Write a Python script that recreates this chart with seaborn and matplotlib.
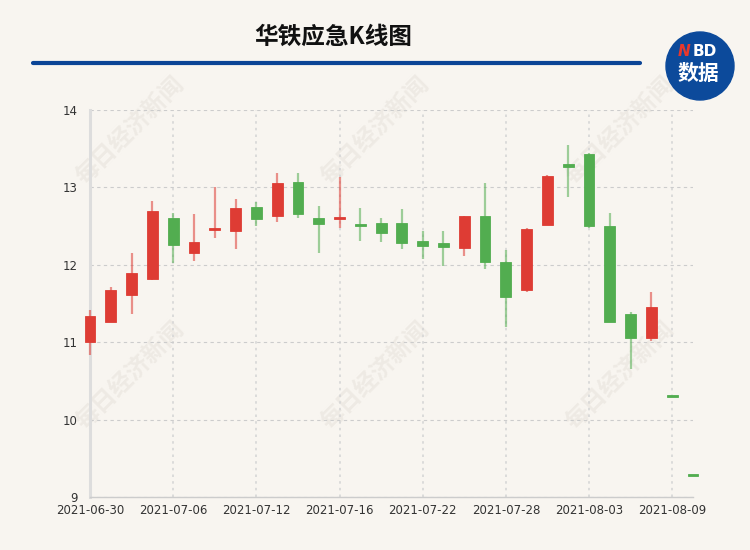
import numpy as np
import pandas as pd
import seaborn as sns
import matplotlib.pyplot as plt
from matplotlib.patches import Ellipse

# 华铁应急 daily candles
dates = ["2021-06-30", "2021-07-01", "2021-07-02", "2021-07-05", "2021-07-06",
         "2021-07-07", "2021-07-08", "2021-07-09", "2021-07-12", "2021-07-13",
         "2021-07-14", "2021-07-15", "2021-07-16", "2021-07-19", "2021-07-20",
         "2021-07-21", "2021-07-22", "2021-07-23", "2021-07-26", "2021-07-27",
         "2021-07-28", "2021-07-29", "2021-07-30", "2021-08-02", "2021-08-03",
         "2021-08-04", "2021-08-05", "2021-08-06", "2021-08-09", "2021-08-10"]
opens = [11.00, 11.26, 11.61, 11.82, 12.60, 12.15, 12.46, 12.44, 12.75, 12.63,
         13.07, 12.60, 12.60, 12.53, 12.54, 12.54, 12.31, 12.28, 12.22, 12.63,
         12.03, 11.67, 12.52, 13.30, 13.43, 12.50, 11.37, 11.06, 10.31, 9.28]
highs = [11.42, 11.71, 12.15, 12.82, 12.67, 12.66, 13.00, 12.85, 12.81, 13.19,
         13.18, 12.76, 13.14, 12.74, 12.61, 12.72, 12.44, 12.44, 12.63, 13.06,
         12.19, 12.48, 13.16, 13.55, 13.44, 12.67, 11.39, 11.65, 10.31, 9.28]
lows = [10.83, 11.26, 11.37, 11.80, 12.02, 12.05, 12.34, 12.20, 12.50, 12.55,
        12.60, 12.15, 12.48, 12.31, 12.30, 12.20, 12.08, 11.98, 12.12, 11.95,
        11.20, 11.65, 12.52, 12.87, 12.48, 11.26, 10.66, 11.01, 10.31, 9.28]
closes = [11.34, 11.67, 11.89, 12.69, 12.26, 12.29, 12.48, 12.73, 12.59, 13.06,
          12.65, 12.53, 12.61, 12.52, 12.41, 12.28, 12.24, 12.23, 12.63, 12.03,
          11.59, 12.46, 13.15, 13.26, 12.50, 11.26, 11.06, 11.45, 10.31, 9.28]

df = pd.DataFrame({"date": dates, "open": opens, "high": highs,
                   "low": lows, "close": closes})
df["x"] = np.arange(len(df))
# up/down like echarts: flat days compare with previous close
prev = df["close"].shift(1).fillna(df["open"])
df["up"] = np.where(df["close"] != df["open"], df["close"] > df["open"],
                    df["close"] > prev)

bg = "#f8f5f0"
red = "#de3c34"
green = "#52ad50"

sns.set_theme(style="white")
plt.rcParams["font.family"] = ["DejaVu Sans"]

fig = plt.figure(figsize=(7.5, 5.5), dpi=100, facecolor=bg)
ax = fig.add_axes([0.12, 0.0964, 0.804, 0.7036])
ax.patch.set_alpha(0)

# watermarks, behind everything
for wx in [130, 375, 620]:
    for wy in [130, 375]:
        fig.text(wx / 750, 1 - wy / 550, "每日经济新闻", rotation=45,
                 ha="center", va="center", fontsize=17, fontweight="bold",
                 color="#eeeae4", family=["Noto Sans CJK SC"], zorder=-5)

for _, r in df.iterrows():
    c = red if r["up"] else green
    ax.vlines(r["x"], r["low"], r["high"], color=c, alpha=0.55, lw=1.6,
              zorder=3, clip_on=False)
    lo = min(r["open"], r["close"])
    h = max(abs(r["close"] - r["open"]), 0.025)
    ax.bar(r["x"], h, bottom=lo - (0.0125 if h == 0.025 else 0), width=0.52,
           color=c, edgecolor=c, linewidth=0.6, zorder=4, clip_on=False)

ax.set_xlim(0, len(df) - 1)
ax.set_ylim(9, 14)
ax.set_yticks([9, 10, 11, 12, 13, 14])
ax.set_xticks(df["x"][::4])
ax.set_xticklabels(df["date"][::4])
ax.tick_params(axis="both", length=0, labelsize=8.5, labelcolor="#333333")
ax.tick_params(axis="x", pad=5)
ax.tick_params(axis="y", pad=9)

ax.yaxis.grid(True, linestyle=(0, (3, 3)), color="#cccccc", lw=0.8)
ax.xaxis.grid(True, linestyle=(0, (1.5, 2.5)), color="#d6d6d6", lw=1.2)
ax.set_axisbelow(True)
for s in ["top", "right"]:
    ax.spines[s].set_visible(False)
ax.spines["left"].set_color("#dddddd")
ax.spines["left"].set_linewidth(2.2)
ax.spines["bottom"].set_color("#cccccc")
ax.spines["bottom"].set_linewidth(1)

# header
fig.text(333 / 750, 1 - 37 / 550, "华铁应急K线图", ha="center", va="center",
         fontsize=17, fontweight="bold", color="#111111",
         family=["Noto Sans CJK SC", "DejaVu Sans"])
fig.add_artist(plt.Line2D([33 / 750, 640 / 750], [1 - 63 / 550, 1 - 63 / 550],
                          color="#0b4596", lw=3))
fig.add_artist(Ellipse((700 / 750, 1 - 66 / 550), 68 / 750, 68 / 550,
                       color="#0c4a9b", transform=fig.transFigure))
fig.text(684 / 750, 1 - 51 / 550, "N", ha="center", va="center", fontsize=11,
         fontweight="bold", style="italic", color="#e8382c")
fig.text(705 / 750, 1 - 51 / 550, "BD", ha="center", va="center", fontsize=11,
         fontweight="bold", color="white")
fig.text(698 / 750, 1 - 73 / 550, "数据", ha="center", va="center", fontsize=15,
         fontweight="bold", color="white", family=["Noto Sans CJK SC"])

plt.savefig("out.png", dpi=100, facecolor=bg)
